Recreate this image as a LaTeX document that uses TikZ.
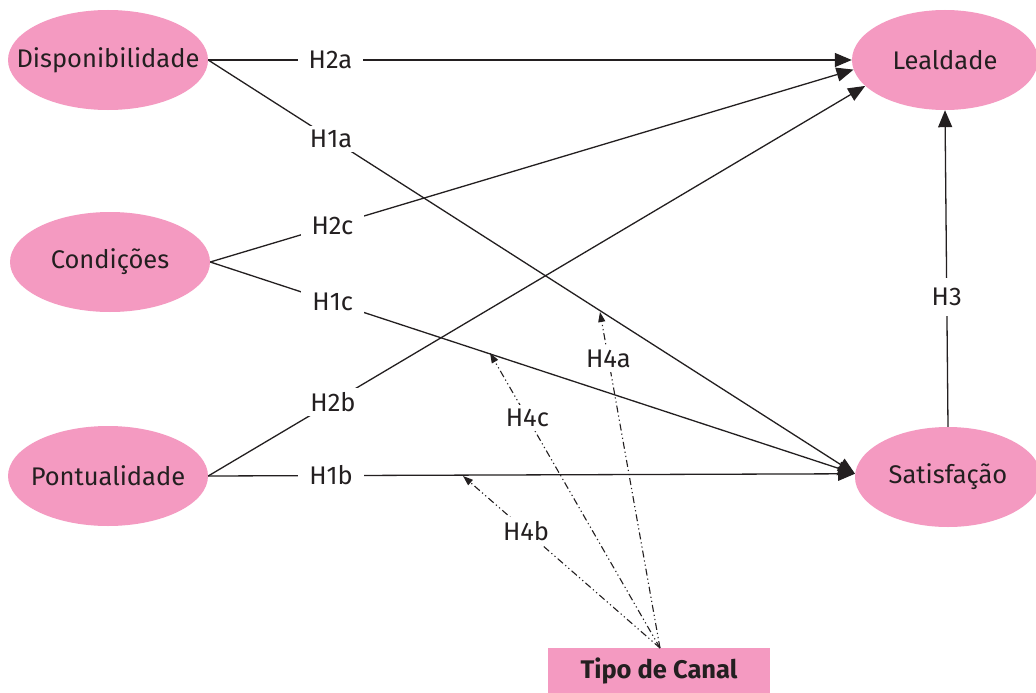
\documentclass[tikz,border=0pt]{standalone}
\usepackage{fontspec}
\setmainfont{Fira Sans}
\usetikzlibrary{arrows.meta,shapes.geometric}
\definecolor{pinkfill}{HTML}{F49AC1}
\definecolor{ink}{HTML}{231F20}
\begin{document}
\begin{tikzpicture}[x=1pt,y=-1pt,
  every node/.style={font=\fontsize{25.5}{30}\selectfont, text=ink},
  construct/.style={ellipse, fill=pinkfill, draw=none, inner sep=0pt, minimum width=200pt, minimum height=100pt},
  lbl/.style={fill=white, inner xsep=11pt, inner ysep=4pt},
  conn/.style={draw=ink, line width=1.3pt, -{Triangle[length=17pt,width=14pt]}},
  moder/.style={draw=ink, line width=1.1pt, dash pattern=on 7pt off 3pt on 1.2pt off 3pt on 1.2pt off 3pt, -{Triangle[length=10pt,width=7pt]}}
]
\useasboundingbox[fill=white] (0,0) rectangle (1036,693);

\node[construct] (disp) at (108,60) {\makebox[0pt]{Disponibilidade}};
\node[construct] (cond) at (110,262) {\makebox[0pt]{Condições}};
\node[construct] (pont) at (108,476) {\makebox[0pt]{Pontualidade}};
\node[construct, minimum width=186pt] (leal) at (945,60) {\makebox[0pt]{Lealdade}};
\node[construct, minimum width=186pt] (sat) at (948,477) {\makebox[0pt]{Satisfação}};
\node[fill=pinkfill, minimum width=222pt, minimum height=46pt, inner sep=0pt, font=\fontsize{25.5}{30}\selectfont\bfseries] (tipo) at (659,671) {Tipo de Canal};

% H2 paths to Lealdade
\draw[conn] (disp.east) -- (leal.west) node[lbl, pos=0.19] (h2a) {H2a};
\draw[conn] (cond.east) -- (leal.186) node[lbl, pos=0.19] (h2c) {H2c};
\draw[conn] (pont.east) -- (leal.198) node[lbl, pos=0.19] (h2b) {H2b};

% H1 paths to Satisfacao
\draw[conn] (disp.east) -- (sat.178) node[lbl, pos=0.19] (h1a) {H1a};
\draw[conn] (cond.east) -- (sat.178) node[lbl, pos=0.19] (h1c) {H1c};
\draw[conn] (pont.east) -- (sat.178) node[lbl, pos=0.19] (h1b) {H1b};

% H3
\draw[conn] (sat.north) -- (leal.south) node[lbl, inner xsep=4pt, inner ysep=10pt, pos=0.41] (h3) {H3};

% Moderation targets
\coordinate (t4a) at (600,312);
\coordinate (t4c) at (490,353);
\coordinate (t4b) at (463,476);
\coordinate (src) at (660,648);

\draw[moder] (src) -- (t4a) node[lbl, inner xsep=3pt, pos=0.86] (h4a) {H4a};
\draw[moder] (src) -- (t4c) node[lbl, inner xsep=3pt, pos=0.78] (h4c) {H4c};
\draw[moder] (src) -- (t4b) node[lbl, inner xsep=3pt, pos=0.68] (h4b) {H4b};
\end{tikzpicture}
\end{document}
